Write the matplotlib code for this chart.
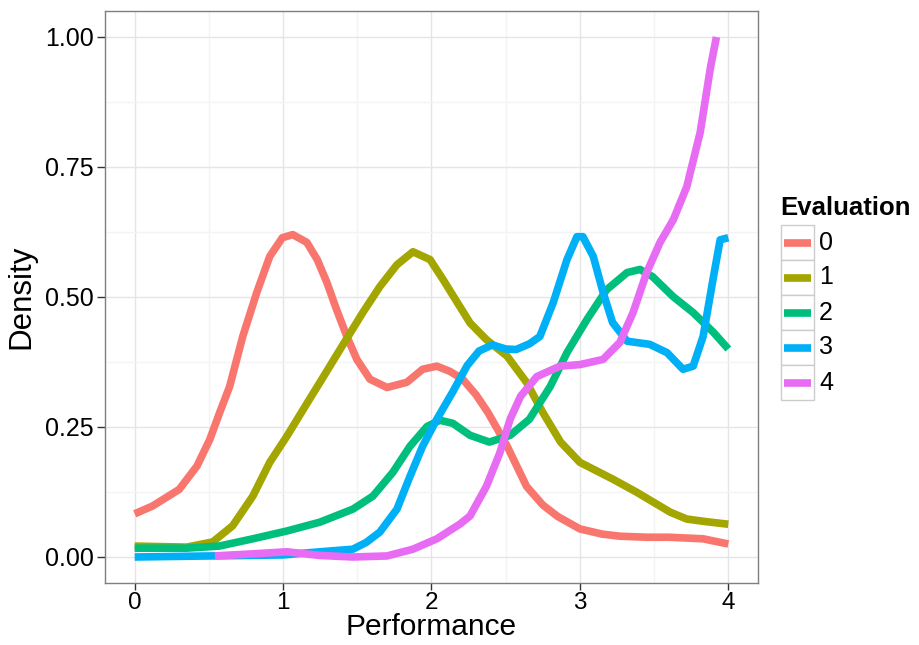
import matplotlib
matplotlib.use("Agg")
import matplotlib.pyplot as plt
from matplotlib.patches import Rectangle
from matplotlib.lines import Line2D
from matplotlib.ticker import FixedLocator

plt.rcParams['font.family'] = ['Liberation Sans', 'DejaVu Sans']

categories = ["0", "1", "2", "3", "4"]
colors = ["#F8766D", "#A3A500", "#00BF7D", "#00B0F6", "#E76BF3"]

x0 = [0.00, 0.12, 0.30, 0.42, 0.506, 0.573, 0.64, 0.728, 0.823, 0.91, 0.995, 1.065, 1.16, 1.23, 1.295, 1.36, 1.43, 1.497, 1.585, 1.70, 1.834, 1.94, 2.036, 2.124, 2.21, 2.30, 2.38, 2.51, 2.64, 2.75, 2.85, 3.00, 3.15, 3.27, 3.45, 3.60, 3.83, 4.00]
y0 = [0.083, 0.098, 0.130, 0.175, 0.226, 0.278, 0.328, 0.424, 0.509, 0.578, 0.614, 0.620, 0.605, 0.572, 0.528, 0.476, 0.424, 0.380, 0.342, 0.326, 0.336, 0.361, 0.367, 0.357, 0.342, 0.312, 0.278, 0.213, 0.136, 0.100, 0.078, 0.054, 0.044, 0.040, 0.038, 0.038, 0.035, 0.025]

x1 = [0.00, 0.35, 0.526, 0.66, 0.796, 0.91, 1.025, 1.16, 1.268, 1.403, 1.537, 1.652, 1.767, 1.875, 1.99, 2.077, 2.19, 2.26, 2.37, 2.51, 2.64, 2.75, 2.87, 3.00, 3.22, 3.38, 3.61, 3.72, 3.85, 4.00]
y1 = [0.021, 0.019, 0.029, 0.060, 0.117, 0.182, 0.232, 0.295, 0.345, 0.408, 0.470, 0.520, 0.562, 0.587, 0.572, 0.534, 0.482, 0.450, 0.418, 0.386, 0.336, 0.278, 0.221, 0.182, 0.150, 0.125, 0.086, 0.073, 0.068, 0.063]

x2 = [0.00, 0.35, 0.57, 0.796, 1.025, 1.248, 1.47, 1.605, 1.74, 1.855, 1.97, 2.056, 2.144, 2.26, 2.39, 2.53, 2.66, 2.80, 2.913, 3.048, 3.18, 3.318, 3.405, 3.49, 3.627, 3.763, 3.90, 4.00]
y2 = [0.017, 0.017, 0.021, 0.035, 0.050, 0.067, 0.092, 0.117, 0.163, 0.213, 0.251, 0.263, 0.257, 0.234, 0.221, 0.234, 0.265, 0.328, 0.393, 0.457, 0.514, 0.547, 0.553, 0.539, 0.501, 0.470, 0.432, 0.400]

x3 = [0.00, 0.50, 1.00, 1.248, 1.47, 1.56, 1.652, 1.767, 1.855, 1.94, 2.036, 2.144, 2.24, 2.32, 2.41, 2.50, 2.57, 2.66, 2.73, 2.82, 2.913, 2.98, 3.02, 3.09, 3.156, 3.22, 3.318, 3.47, 3.587, 3.695, 3.763, 3.83, 3.90, 3.945, 4.00]
y3 = [0.000, 0.002, 0.004, 0.010, 0.015, 0.028, 0.048, 0.092, 0.155, 0.213, 0.265, 0.318, 0.368, 0.396, 0.408, 0.400, 0.399, 0.410, 0.424, 0.489, 0.572, 0.616, 0.616, 0.578, 0.509, 0.451, 0.415, 0.409, 0.393, 0.361, 0.367, 0.424, 0.539, 0.610, 0.614]

x4 = [0.54, 0.796, 1.025, 1.248, 1.47, 1.70, 1.875, 2.036, 2.19, 2.26, 2.37, 2.46, 2.53, 2.60, 2.71, 2.866, 3.00, 3.156, 3.27, 3.358, 3.45, 3.54, 3.63, 3.72, 3.81, 3.88, 3.92]
y4 = [0.002, 0.006, 0.010, 0.003, 0.000, 0.002, 0.015, 0.035, 0.063, 0.079, 0.136, 0.200, 0.265, 0.309, 0.347, 0.367, 0.370, 0.380, 0.413, 0.470, 0.547, 0.605, 0.649, 0.712, 0.816, 0.942, 1.000]

xs = [x0, x1, x2, x3, x4]
ys = [y0, y1, y2, y3, y4]

x_ticks = [0, 1, 2, 3, 4]
y_ticks = [0.0, 0.25, 0.5, 0.75, 1.0]
y_tick_labels = ["0.00", "0.25", "0.50", "0.75", "1.00"]

fig = plt.figure(figsize=(9.2, 6.45), dpi=100)
ax = fig.add_axes([105/920, 1-583/645, (758-105)/920, (583-11)/645])

for xv, yv, c in zip(xs, ys, colors):
    ax.plot(xv, yv, color=c, lw=5.5, solid_joinstyle='round', solid_capstyle='butt', zorder=3)

ax.set_xlim(-0.2, 4.2)
ax.set_ylim(-0.05, 1.05)
ax.set_xticks(x_ticks)
ax.set_xticklabels([str(t) for t in x_ticks])
ax.set_yticks(y_ticks)
ax.set_yticklabels(y_tick_labels)
ax.xaxis.set_minor_locator(FixedLocator([0.5, 1.5, 2.5, 3.5]))
ax.yaxis.set_minor_locator(FixedLocator([0.125, 0.375, 0.625, 0.875]))
ax.grid(which='major', color='#E5E5E5', lw=1.0, zorder=0)
ax.grid(which='minor', color='#F4F4F4', lw=1.0, zorder=0)
ax.set_axisbelow(True)
ax.tick_params(which='minor', length=0)
ax.tick_params(which='major', length=6, width=1.0, color='#333333', labelsize=18, labelcolor='black', pad=2)
ax.tick_params(axis='x', which='major', length=5, labelsize=17.5, pad=1.5)
for s in ax.spines.values():
    s.set_color('#7F7F7F')
    s.set_linewidth(1.0)

ax.set_xlabel("Performance", fontsize=21.5, labelpad=-1)
ax.set_ylabel("Density", fontsize=22.5, labelpad=6)

# legend
W, H = 920, 645
fig.text(780/W, 1-208/H, "Evaluation", fontsize=18.5, fontweight='bold', ha='left', va='center')
key_top = 225
key_h = 35
for i, (cat, c) in enumerate(zip(categories, colors)):
    top = key_top + i*key_h
    fig.patches.append(Rectangle((781/W, 1-(top+key_h)/H), 33/W, key_h/H, transform=fig.transFigure,
                                 facecolor='white', edgecolor='#CCCCCC', lw=1.0))
    yc = 1-(top+key_h/2)/H
    fig.lines.append(Line2D([784/W, 811/W], [yc, yc], transform=fig.transFigure, color=c, lw=5.5, solid_capstyle='butt'))
    fig.text(819/W, yc, cat, fontsize=18, ha='left', va='center')

fig.savefig("out.png", dpi=100)
